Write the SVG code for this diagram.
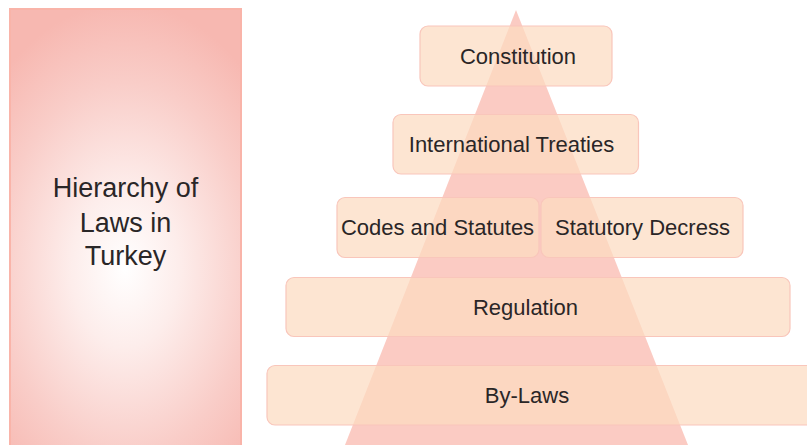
<svg xmlns="http://www.w3.org/2000/svg" width="807" height="445" viewBox="0 0 807 445">
  <defs>
    <radialGradient id="panelGrad" gradientUnits="userSpaceOnUse" cx="125" cy="268" r="265" gradientTransform="translate(125 268) scale(0.68 1) translate(-125 -268)">
      <stop offset="0" stop-color="#ffffff"/>
      <stop offset="0.3" stop-color="#fdedeb"/>
      <stop offset="0.7" stop-color="#f9cdc8"/>
      <stop offset="1" stop-color="#f7b8b1"/>
    </radialGradient>
  </defs>
  <style>
    .box { fill: #fcdbc0; fill-opacity: 0.72; stroke: #f9c6bb; stroke-width: 1.2; }
    .lbl { font-family: "Liberation Sans", Arial, sans-serif; font-size: 22px; fill: #2a2627; text-anchor: middle; }
    .title { font-family: "Liberation Sans", Arial, sans-serif; font-size: 27px; fill: #2a2627; text-anchor: middle; }
  </style>
  <rect width="807" height="445" fill="#ffffff"/>

  <g id="panel">
    <rect x="10" y="9" width="231" height="440" fill="url(#panelGrad)" stroke="#f9b4a9" stroke-width="2"/>
    <text class="title" x="125.5" y="197">Hierarchy of</text>
    <text class="title" x="125.5" y="232">Laws in</text>
    <text class="title" x="125.5" y="265">Turkey</text>
  </g>

  <g id="pyramid">
    <polygon points="516,10 345,445 688,445" fill="#fbcbc3"/>
  </g>

  <g id="connectors"></g>

  <g id="constitution">
    <rect class="box" x="420" y="26" width="192" height="60" rx="8"/>
    <text class="lbl" x="518" y="64">Constitution</text>
  </g>
  <g id="treaties">
    <rect class="box" x="393" y="114.5" width="245.5" height="59.5" rx="8"/>
    <text class="lbl" x="511.5" y="152">International Treaties</text>
  </g>
  <g id="codes">
    <rect class="box" x="337" y="197.5" width="202" height="60" rx="8"/>
    <text class="lbl" x="437.5" y="235">Codes and Statutes</text>
  </g>
  <g id="decrees">
    <rect class="box" x="541" y="197.5" width="202" height="60" rx="8"/>
    <text class="lbl" x="642.5" y="235">Statutory Decress</text>
  </g>
  <g id="regulation">
    <rect class="box" x="286" y="277.5" width="504" height="59" rx="8"/>
    <text class="lbl" x="525.5" y="314.5">Regulation</text>
  </g>
  <g id="bylaws">
    <rect class="box" x="267" y="365.5" width="560" height="59.5" rx="8"/>
    <text class="lbl" x="527" y="402.5">By-Laws</text>
  </g>
</svg>
